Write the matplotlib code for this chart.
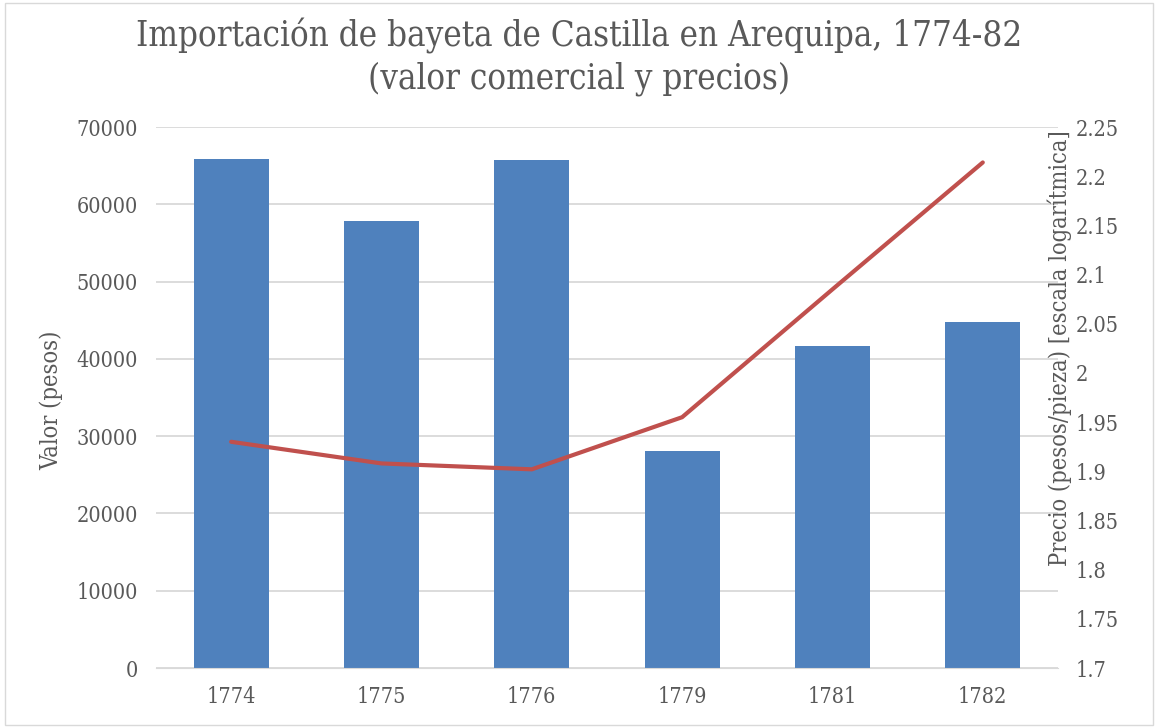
import matplotlib.pyplot as plt
import matplotlib.patches as mpatches
import numpy as np

# datos
anios = ["1774", "1775", "1776", "1779", "1781", "1782"]
valor = [65800, 57800, 65700, 28100, 41700, 44800]
precio = [1.930, 1.908, 1.902, 1.955, 2.085, 2.214]

azul = "#4F81BD"
rojo = "#C0504D"
gris = "#595959"

plt.rcParams['font.family'] = ["DejaVu Serif"]
plt.rcParams['font.stretch'] = 'condensed'

fig = plt.figure(figsize=(11.58, 7.28), dpi=100)
ax = fig.add_axes([0.1347, 0.0824, 0.7789, 0.7431])
ax2 = ax.twinx()

x = np.arange(len(anios))
ax.bar(x, valor, width=0.5, color=azul, zorder=2)
ax2.plot(x, precio, color=rojo, linewidth=3, solid_capstyle='round')

ax.set_xlim(-0.5, len(anios) - 0.5)
ax.set_ylim(0, 70000)
ax.set_yticks(np.arange(0, 70001, 10000))
ax2.set_ylim(1.7, 2.25)
ticks2 = np.round(np.arange(1.7, 2.2501, 0.05), 2)
ax2.set_yticks(ticks2)
ax2.set_yticklabels([f"{v:g}" for v in ticks2])

ax.set_xticks(x)
ax.set_xticklabels(anios)

# rejilla horizontal gris clara
ax.grid(axis='y', color="#D9D9D9", linewidth=1.3, zorder=0)
ax.set_axisbelow(True)

for a in (ax, ax2):
    for s in a.spines.values():
        s.set_visible(False)
    a.tick_params(length=0, colors=gris, labelsize=15.5)
ax.spines['bottom'].set_visible(True)
ax.spines['bottom'].set_color("#D9D9D9")
ax.tick_params(axis='x', pad=13)
ax.tick_params(axis='y', pad=13)
ax2.tick_params(axis='y', pad=13)

ax.set_ylabel("Valor (pesos)", color=gris, fontsize=17)
ax.yaxis.set_label_coords(-0.103, 0.495)
ax2.set_ylabel("Precio (pesos/pieza) [escala logarítmica]", color=gris, fontsize=17)
ax2.yaxis.set_label_coords(0.988, 0.591)

fig.suptitle("Importación de bayeta de Castilla en Arequipa, 1774-82\n(valor comercial y precios)",
             color=gris, fontsize=25, y=0.975, linespacing=1.25)

# marco del gráfico
fig.patches.append(mpatches.Rectangle((0.004, 0.004), 0.992, 0.992, transform=fig.transFigure,
                                      fill=False, edgecolor="#D9D9D9", linewidth=1))

fig.savefig("out.png", dpi=100)
